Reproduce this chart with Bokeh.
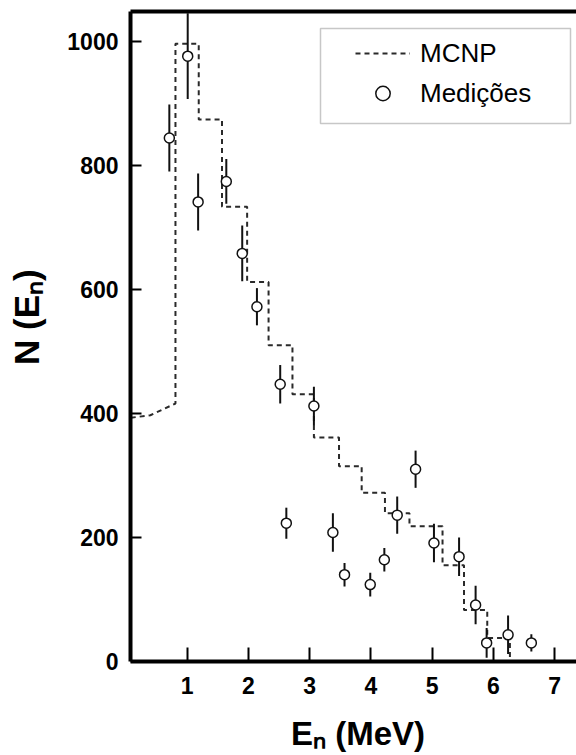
from bokeh.plotting import figure
from bokeh.models import (Range1d, LinearAxis, FixedTicker, Legend,
                          LegendItem, BoxAnnotation)
from bokeh.embed import file_html
from bokeh.resources import INLINE

# ---------------- data ----------------
# MCNP simulated spectrum (dashed step line)
mcnp_low_x = [0.08, 0.40, 0.81]
mcnp_low_y = [393, 397, 416]
mcnp_edges = [0.81, 1.19, 1.57, 1.98, 2.33, 2.72, 3.07, 3.48, 3.85, 4.23,
              4.63, 5.17, 5.52, 5.90, 6.27]
mcnp_levels = [996, 874, 733, 612, 510, 431, 361, 315, 272, 239,
               218, 155, 83, 38]
mcnp_tail = 0

# Measurements (Medições) with error bars
meas_e = [0.71, 1.01, 1.18, 1.64, 1.90, 2.14, 2.52, 2.62, 3.07, 3.38, 3.57,
          3.99, 4.22, 4.43, 4.73, 5.03, 5.44, 5.71, 5.89, 6.24, 6.62]
meas_n = [844, 976, 741, 774, 658, 572, 447, 223, 412, 208, 140,
          124, 164, 236, 310, 191, 169, 91, 30, 43, 30]
meas_err = [54, 69, 46, 36, 45, 30, 31, 25, 31, 31, 19,
            19, 19, 30, 30, 31, 31, 31, 24, 31, 14]

x_ticks = [1, 2, 3, 4, 5, 6, 7]
y_ticks = [0, 200, 400, 600, 800, 1000]

NB = "\u00a0"
x_title = NB + "E\u2099 (MeV)"
y_title = NB * 4 + "N (E\u2099)"

# ---------------- figure ----------------
FONT = "Liberation Sans"
p = figure(width=576, height=755, x_range=Range1d(0.076, 7.357),
           y_range=Range1d(0, 1048), output_backend="svg",
           toolbar_location=None, min_border_left=130, min_border_right=0,
           min_border_top=11, min_border_bottom=94)
p.outline_line_color = None
p.grid.visible = False
p.background_fill_color = "white"

for ax, tick_in in ((p.xaxis[0], 14), (p.yaxis[0], 11)):
    ax.axis_line_width = 4
    ax.axis_line_color = "black"
    ax.major_tick_in = tick_in
    ax.major_tick_out = 0
    ax.major_tick_line_width = 2
    ax.major_tick_line_color = "black"
    ax.minor_tick_line_color = None
    ax.major_label_text_font = FONT
    ax.major_label_text_font_style = "bold"
    ax.major_label_text_font_size = "23px"
    ax.major_label_text_color = "black"
    ax.axis_label_text_font = FONT
    ax.axis_label_text_font_style = "bold"
    ax.axis_label_text_color = "black"
p.xaxis[0].ticker = FixedTicker(ticks=x_ticks)
p.yaxis[0].ticker = FixedTicker(ticks=y_ticks)
p.xaxis[0].major_label_standoff = 15
p.yaxis[0].major_label_standoff = 12
p.xaxis[0].axis_label = x_title
p.xaxis[0].axis_label_text_font_size = "33px"
p.xaxis[0].axis_label_standoff = 18
p.yaxis[0].axis_label = y_title
p.yaxis[0].axis_label_text_font_size = "35px"
p.yaxis[0].axis_label_standoff = 18

top = LinearAxis(ticker=FixedTicker(ticks=[]), axis_line_width=4,
                 axis_line_color="black", major_tick_out=0, major_tick_in=0,
                 minor_tick_out=0, minor_tick_in=0, major_label_standoff=0,
                 major_label_text_font_size="0px")
p.add_layout(top, "above")

# step path built from edges / levels
step_x = list(mcnp_low_x)
step_y = list(mcnp_low_y)
for i, lv in enumerate(mcnp_levels):
    step_x += [mcnp_edges[i], mcnp_edges[i + 1]]
    step_y += [lv, lv]
step_x.append(mcnp_edges[-1])
step_y.append(mcnp_tail)

step_r = p.line(step_x, step_y, line_color="#2a2a2a", line_width=2,
                line_dash="5 4")

lo = [n - e for n, e in zip(meas_n, meas_err)]
hi = [n + e for n, e in zip(meas_n, meas_err)]
p.segment(x0=meas_e, y0=lo, x1=meas_e, y1=hi, line_color="#111",
          line_width=2)
meas_r = p.scatter(meas_e, meas_n, marker="circle", size=10,
                   fill_color="white", line_color="#111", line_width=1.5)

# ---------------- legend ----------------
FL, FB = 130, 661   # page position of frame left / bottom
def sx(px):
    return px - FL
def sy(py):
    return FB - py

p.add_layout(BoxAnnotation(left=sx(320), right=sx(570), top=sy(28),
                           bottom=sy(123), left_units="screen",
                           right_units="screen", top_units="screen",
                           bottom_units="screen", fill_alpha=0,
                           line_color="#444", line_width=1.5))
legend = Legend(items=[LegendItem(label="MCNP", renderers=[step_r]),
                       LegendItem(label="Medições", renderers=[meas_r])],
                location=(sx(355), sy(111)), padding=2, margin=0, spacing=4,
                glyph_width=55, glyph_height=36, label_height=36,
                label_standoff=10, border_line_color=None,
                background_fill_alpha=0, label_text_font=FONT,
                label_text_font_size="26px", label_text_color="black")
p.add_layout(legend)

open("out.html", "w").write(file_html(p, INLINE))
